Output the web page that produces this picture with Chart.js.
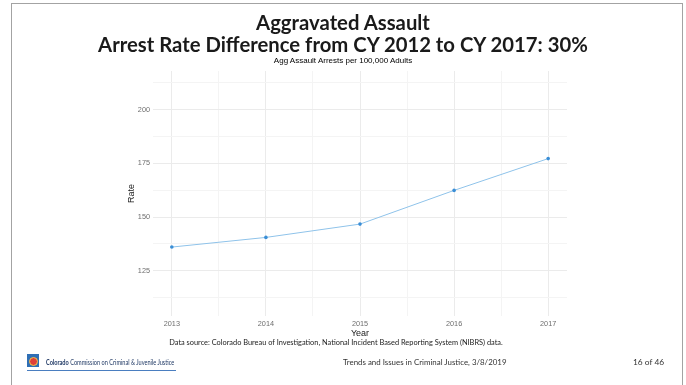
<!DOCTYPE html>
<html>
<head>
<meta charset="utf-8">
<script src="https://cdn.jsdelivr.net/npm/chart.js@4"></script>
<style>
  html, body { margin: 0; padding: 0; background: #fff; }
  body { width: 686px; height: 385px; position: relative; overflow: hidden; font-family: Lato, "Open Sans", sans-serif; }
  #frame { position: absolute; left: 11px; top: 3px; width: 672px; height: 400px; border: 1.5px solid #a3a3a3; box-sizing: border-box; }
  #chart { position: absolute; left: 0; top: 0; }
  .t { position: absolute; left: 0; width: 686px; text-align: center; white-space: nowrap; color: #1a1a1a; }
  #title1 { top: 10px; font-size: 20.3px; font-weight: 700; }
  #title2 { top: 32px; font-size: 20.3px; font-weight: 700; }
  #sub { top: 56px; font-size: 8px; font-family: "Liberation Sans", Arial, sans-serif; color: #000; }
  #source { top: 338px; left: -7px; font-size: 7.4px; color: #222; }
  #logo { position: absolute; left: 27px; top: 354px; width: 12px; height: 13px; background: #2f6fb5; }
  #logo::after { content: ""; position: absolute; left: 2px; top: 3px; width: 7px; height: 7px; border-radius: 50%; background: #e0403a; border: 1px solid #f2c84b; }
  #org { position: absolute; left: 46px; top: 358px; font-size: 7px; color: #1f3864; white-space: nowrap; transform-origin: 0 0; transform: scaleX(0.8); }
  #rule { position: absolute; left: 27px; top: 370px; width: 149px; height: 1px; background: #4a7ec0; }
  #mid { position: absolute; left: 343px; top: 357px; font-size: 7.9px; color: #333; white-space: nowrap; }
  #page { position: absolute; left: 633px; top: 357px; font-size: 8.4px; color: #333; white-space: nowrap; }
</style>
</head>
<body>
<div id="frame"></div>
<canvas id="chart" width="686" height="385"></canvas>
<div class="t" id="title1">Aggravated Assault</div>
<div class="t" id="title2">Arrest Rate Difference from CY 2012 to CY 2017: 30%</div>
<div class="t" id="sub">Agg Assault Arrests per 100,000 Adults</div>
<div class="t" id="source">Data source: Colorado Bureau of Investigation, National Incident Based Reporting System (NIBRS) data.</div>
<div id="logo"></div>
<div id="org"><b>Colorado</b> Commission on Criminal &amp; Juvenile Justice</div>
<div id="rule"></div>
<div id="mid">Trends and Issues in Criminal Justice, 3/8/2019</div>
<div id="page">16 of 46</div>
<script>
const years = [2013, 2014, 2015, 2016, 2017];
const rates = [136.0, 140.5, 146.7, 162.4, 177.2];
const xTicks = [2013, 2013.5, 2014, 2014.5, 2015, 2015.5, 2016, 2016.5, 2017];
const yTicks = [112.5, 125, 137.5, 150, 162.5, 175, 187.5, 200, 212.5];

const gridColor = ctx => (ctx.tick && Number.isInteger(ctx.tick.value / (ctx.scale.axis === 'x' ? 1 : 25))) ? '#ebebeb' : '#f4f4f4';

new Chart(document.getElementById('chart'), {
    type: 'line',
    data: {
        datasets: [{
            label: 'Rate',
            data: years.map((y, i) => ({ x: y, y: rates[i] })),
            borderColor: '#8fc3ea',
            backgroundColor: '#3a8ed6',
            pointBackgroundColor: '#3a8ed6',
            pointBorderWidth: 0,
            pointRadius: 1.8,
            borderWidth: 1,
            tension: 0
        }]
    },
    options: {
        responsive: false,
        animation: false,
        layout: { padding: { left: 126, top: 71, right: 119, bottom: 46 } },
        plugins: { legend: { display: false }, tooltip: { enabled: false } },
        scales: {
            x: {
                type: 'linear',
                min: 2012.8,
                max: 2017.2,
                afterBuildTicks: scale => { scale.ticks = xTicks.map(v => ({ value: v })); },
                afterFit: scale => { scale.height = 23; },
                border: { display: false },
                grid: { color: gridColor, lineWidth: 1, drawTicks: false },
                ticks: {
                    padding: 4,
                    color: '#6e6e6e',
                    font: { family: 'Liberation Sans', size: 7.3 },
                    callback: v => Number.isInteger(v) ? String(v) : ''
                },
                title: { display: true, text: 'Year', color: '#1a1a1a', padding: { top: 2, bottom: 0 }, font: { family: 'Liberation Sans', size: 9 } }
            },
            y: {
                min: 103.9,
                max: 218,
                afterBuildTicks: scale => { scale.ticks = yTicks.map(v => ({ value: v })); },
                afterFit: scale => { scale.width = 27; },
                border: { display: false },
                grid: { color: gridColor, lineWidth: 1, drawTicks: false },
                ticks: {
                    padding: 3,
                    color: '#6e6e6e',
                    font: { family: 'Liberation Sans', size: 7.3 },
                    callback: v => v % 25 === 0 ? String(v) : ''
                },
                title: { display: true, text: 'Rate', color: '#1a1a1a', padding: { top: 0, bottom: 0 }, font: { family: 'Liberation Sans', size: 9 } }
            }
        }
    }
});
</script>
</body>
</html>
